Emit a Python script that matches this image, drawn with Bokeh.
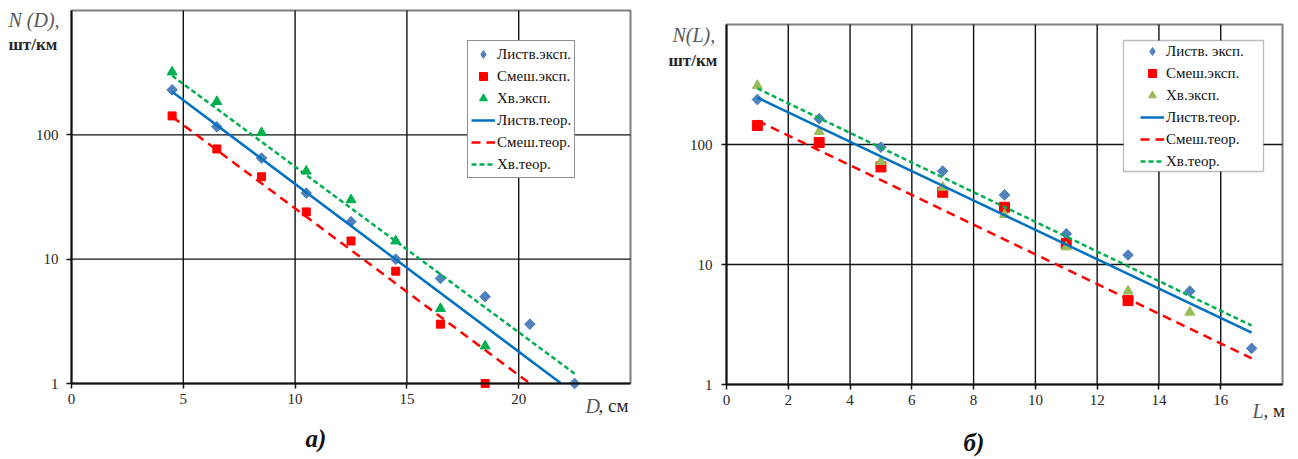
from bokeh.plotting import figure
from bokeh.models import (FixedTicker, Label, Legend, LegendItem, Range1d,
                          LinearAxis, LogAxis, BoxAnnotation)
from bokeh.layouts import row
from bokeh.embed import file_html
from bokeh.resources import INLINE
import math

# ---- Chart а): N(D) ----
D_x = [4.5, 6.5, 8.5, 10.5, 12.5, 14.5, 16.5, 18.5, 20.5, 22.5]
D_decid = [230, 116, 65, 34, 20, 10, 7, 5, 3, 1]
D_mixed_x = [4.5, 6.5, 8.5, 10.5, 12.5, 14.5, 16.5, 18.5]
D_mixed = [142, 77, 46, 24, 14, 8, 3, 1]
D_conif_x = [4.5, 6.5, 8.5, 10.5, 12.5, 14.5, 16.5, 18.5]
D_conif = [320, 185, 104, 51, 30, 14, 4, 2]
D_decid_th_x = [4.5, 21.9]
D_decid_th = [222, 1.0]
D_mixed_th_x = [4.5, 20.5]
D_mixed_th = [140, 1.0]
D_conif_th_x = [4.5, 22.5]
D_conif_th = [299, 1.2]
D_ticks = [0, 5, 10, 15, 20]
D_max = 25

# ---- Chart б): N(L) ----
L_x = [1, 3, 5, 7, 9, 11, 13, 15, 17]
L_decid = [237, 164, 95, 60, 38, 18, 12, 6, 2]
L_mixed_x = [1, 3, 5, 7, 9, 11, 13]
L_mixed = [144, 104, 65, 40, 30, 15, 5]
L_conif_x = [1, 3, 5, 7, 9, 11, 13, 15]
L_conif = [310, 128, 72, 44, 26, 14, 6, 4]
L_th_x = [1, 17]
L_decid_th = [246, 2.7]
L_mixed_th = [158, 1.65]
L_conif_th = [293, 3.1]
L_ticks = [0, 2, 4, 6, 8, 10, 12, 14, 16]
L_max = 18

Y_ticks = [1, 10, 100]
Y_max = 1000

SERIF = "Liberation Serif"
H = 459


class Cal:
    """pixel calibration of a chart: plot area position inside its figure"""
    def __init__(self, px0, px1, xmax, py_top, py_bot, W):
        self.px0, self.k = px0, (px1 - px0) / xmax
        self.py_bot, self.dec = py_bot, (py_bot - py_top) / 3.0
        self.W = W

    def x(self, px):
        return (px - self.px0) / self.k

    def y(self, py):
        return 10 ** ((self.py_bot - py) / self.dec)


def make_fig(c, ticks, xmax, lab_standoff):
    p = figure(width=c.W, height=H,
               x_range=Range1d(c.x(0), c.x(c.W)), y_range=Range1d(c.y(H), c.y(0)),
               y_axis_type="log", x_axis_location=None, y_axis_location=None,
               output_backend="svg", toolbar_location=None,
               min_border=0, min_border_left=0, min_border_right=0,
               min_border_top=0, min_border_bottom=0)
    p.xgrid.visible = False
    p.ygrid.visible = False
    p.outline_line_color = None
    p.background_fill_color = "white"
    p.border_fill_color = "white"

    # plot-area border and grid
    p.quad(left=[0], right=[xmax], bottom=[1], top=[Y_max], fill_color=None,
           line_color="#7f7f7f", line_width=2)
    gx = [t for t in ticks if t > 0]
    p.segment(x0=gx, y0=[1] * len(gx), x1=gx, y1=[Y_max] * len(gx),
              line_color="#111111", line_width=1.4)
    gy = [t for t in Y_ticks if t > 1]
    p.segment(x0=[0] * len(gy), y0=gy, x1=[xmax] * len(gy), y1=gy,
              line_color="#111111", line_width=1.4)

    xa = LinearAxis(fixed_location=1, bounds=(0, xmax), ticker=FixedTicker(ticks=ticks))
    ya = LogAxis(fixed_location=0, bounds=(1, Y_max), ticker=FixedTicker(ticks=Y_ticks))
    ya.major_label_overrides = {1: "1", 10: "10", 100: "100"}
    for ax in (xa, ya):
        ax.major_label_text_font = SERIF
        ax.major_label_text_font_size = "15px"
        ax.major_label_text_color = "#262626"
        ax.minor_tick_line_color = None
        ax.major_tick_in = 0
        ax.major_tick_out = 5
        ax.major_tick_line_color = "#111111"
        ax.major_tick_line_width = 1.5
        ax.axis_line_color = "#111111"
        ax.axis_line_width = 2
    xa.major_label_standoff = 5
    ya.major_label_standoff = lab_standoff
    p.add_layout(xa, "below")
    p.add_layout(ya, "left")
    return p


def add_series(p, xs, exp, th_xs, th, tri_color, labels, size_sq):
    # diamond glyph (used by the legend), covered by a rotated square on the plot
    r1 = p.scatter(xs[0], exp[0], marker="diamond", size=10, color="#4F81BD")
    p.scatter(xs[0], exp[0], marker="square", angle=math.pi / 4, size=7.5,
              color="#4F81BD")
    r2 = p.scatter(xs[1], exp[1], marker="square", size=size_sq, color="#FF0000")
    r3 = p.scatter(xs[2], exp[2], marker="triangle", size=10, color=tri_color)
    r4 = p.line(th_xs[0], th[0], line_color="#0070C0", line_width=2.5)
    r5 = p.line(th_xs[1], th[1], line_color="#FF0000", line_width=2.5, line_dash="9 6")
    r6 = p.line(th_xs[2], th[2], line_color="#00B050", line_width=2.5, line_dash="5 3")
    rs = [r1, r2, r3, r4, r5, r6]
    return [LegendItem(label=l, renderers=[r]) for l, r in zip(labels, rs)]


def add_legend(p, items, loc, spacing, padding, border):
    lg = Legend(items=items, location=loc)
    lg.label_text_font = SERIF
    lg.label_text_font_size = "15px"
    lg.label_text_color = "#111111"
    lg.glyph_width = 24
    lg.glyph_height = 20
    lg.label_height = 20
    lg.label_standoff = 2
    lg.spacing = spacing
    lg.padding = padding
    lg.margin = 0
    if border:
        lg.border_line_color = "#222222"
        lg.border_line_width = 1.3
        lg.background_fill_color = "white"
        lg.background_fill_alpha = 1
    else:
        lg.border_line_color = None
        lg.background_fill_alpha = 0
    p.add_layout(lg, "center")


def txt(p, x, y, text, size, style="normal", color="#222222"):
    p.add_layout(Label(x=x, y=y, text=text, text_font=SERIF, text_font_size=size,
                       text_font_style=style, text_color=color, text_align="left",
                       text_baseline="middle"))


# Left figure: plot area 71..630 px wide, 10..383 px tall
ca = Cal(71, 630, D_max, 10, 383, 650)
pa = make_fig(ca, D_ticks, D_max, 8)
items_a = add_series(pa, [D_x, D_mixed_x, D_conif_x], [D_decid, D_mixed, D_conif],
                     [D_decid_th_x, D_mixed_th_x, D_conif_th_x],
                     [D_decid_th, D_mixed_th, D_conif_th], "#00B050",
                     ["Листв.эксп.", "Смеш.эксп.", "Хв.эксп.",
                      "Листв.теор.", "Смеш.теор.", "Хв.теор."], 8)
add_legend(pa, items_a, (467, H - 178), 2, 3, True)
txt(pa, ca.x(8), ca.y(19), "N (D),", "20px", "italic", "#595959")
txt(pa, ca.x(8), ca.y(44), "шт/км", "17px", "bold", "#262626")
txt(pa, ca.x(585), ca.y(405), "D", "20px", "italic", "#595959")
txt(pa, ca.x(598), ca.y(405), ", см", "19px", "normal", "#262626")
txt(pa, ca.x(305), ca.y(438), "а)", "25px", "bold italic", "#111111")

# Right figure: plot area 76..632 px wide, 24..384 px tall
cb = Cal(76, 632, L_max, 24, 384, 648)
pb = make_fig(cb, L_ticks, L_max, 9)
pb.add_layout(BoxAnnotation(left=cb.x(473), right=cb.x(613), top=cb.y(40), bottom=cb.y(171),
                            fill_color="white", fill_alpha=1,
                            line_color="#222222", line_width=1.3))
items_b = add_series(pb, [L_x, L_mixed_x, L_conif_x], [L_decid, L_mixed, L_conif],
                     [L_th_x, L_th_x, L_th_x], [L_decid_th, L_mixed_th, L_conif_th], "#9BBB59",
                     ["Листв. эксп.", "Смеш.эксп.", "Хв.эксп.",
                      "Листв.теор.", "Смеш.теор.", "Хв.теор."], 10)
add_legend(pb, items_b, (490, H - 171), 2, 0, False)
txt(pb, cb.x(22), cb.y(34), "N(L),", "20px", "italic", "#595959")
txt(pb, cb.x(18), cb.y(60), "шт/км", "17px", "bold", "#262626")
txt(pb, cb.x(602), cb.y(410), "L", "20px", "italic", "#595959")
txt(pb, cb.x(613), cb.y(410), ", м", "19px", "normal", "#262626")
txt(pb, cb.x(313), cb.y(442), "б)", "25px", "bold italic", "#111111")

layout = row(pa, pb, spacing=0)
open("out.html", "w").write(file_html(layout, INLINE))
